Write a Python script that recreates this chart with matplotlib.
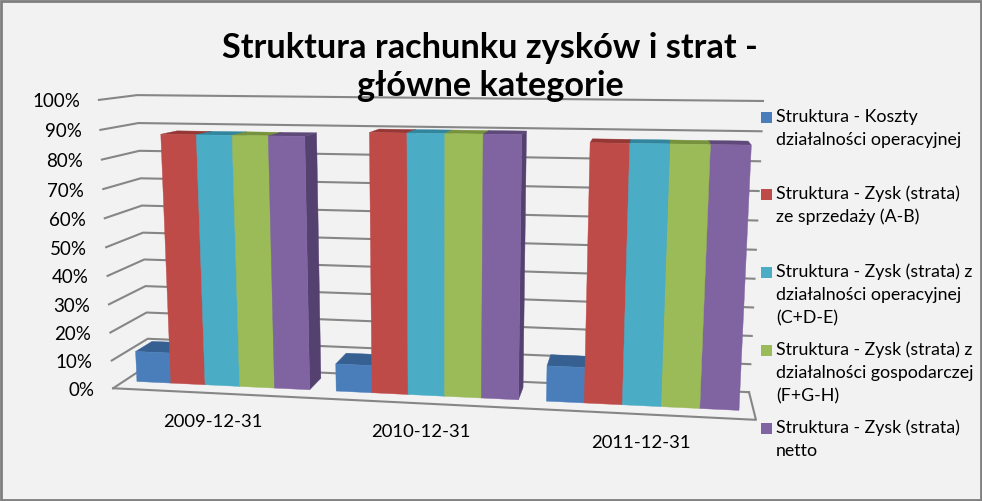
import numpy as np
import matplotlib
matplotlib.use("Agg")
import matplotlib.pyplot as plt
from matplotlib.patches import Polygon, Rectangle

plt.rcParams['font.family'] = ['Lato', 'DejaVu Sans']

categories = ["2009-12-31", "2010-12-31", "2011-12-31"]
koszty = [11.0, 9.7, 12.3]
zysk_sprzedaz = [88.0, 89.6, 87.3]
zysk_operacyjna = [88.0, 89.6, 87.3]
zysk_gospodarcza = [88.0, 89.6, 87.3]
zysk_netto = [88.0, 89.6, 87.3]
series = [koszty, zysk_sprzedaz, zysk_operacyjna, zysk_gospodarcza, zysk_netto]

ticks = list(range(0, 101, 10))
title = "Struktura rachunku zysków i strat -\ngłówne kategorie"
legend_labels = [
    ["Struktura - Koszty", "działalności operacyjnej"],
    ["Struktura - Zysk (strata)", "ze sprzedaży (A-B)"],
    ["Struktura - Zysk (strata) z", "działalności operacyjnej", "(C+D-E)"],
    ["Struktura - Zysk (strata) z", "działalności gospodarczej", "(F+G-H)"],
    ["Struktura - Zysk (strata)", "netto"],
]
legend_y = [117, 194, 272, 350, 428]

colors = ["#4A7EBB", "#BE4B48", "#4BACC6", "#9BBB59", "#8064A2"]
tops = ["#376092", "#953735", "#31859C", "#76923C", "#5F497A"]
sides = ["#376092", "#953735", "#31859C", "#76923C", "#554170"]
grid_color = "#868686"

# box corners (x, depth, value 0..1) -> where they land in the picture
anchors = [
    ((0, 0, 0), (113, 388)), ((1, 0, 0), (756, 420)),
    ((0, 1, 0), (149, 365)), ((1, 1, 0), (749, 392)),
    ((0, 1, 1), (137, 95)), ((1, 1, 1), (763, 101)),
    ((0, 0, 1), (99, 100)),
]

rows = []
for (X, Y, Z), (u, v) in anchors:
    u, v = u / 1000, v / 1000
    rows.append([X, Y, Z, 1, 0, 0, 0, 0, -u * X, -u * Y, -u * Z, -u])
    rows.append([0, 0, 0, 0, X, Y, Z, 1, -v * X, -v * Y, -v * Z, -v])
P = np.linalg.svd(np.array(rows))[2][-1].reshape(3, 4)
cam = np.linalg.svd(P)[2][-1]
cam = cam / cam[3]


def project(x, y, z):
    h = P @ np.array([x, y, z / 100, 1.0])
    return h[0] / h[2] * 1000, h[1] / h[2] * 1000


def poly(ax, pts, color, zorder):
    ax.add_patch(Polygon([project(*p) for p in pts], closed=True, facecolor=color,
                         edgecolor=color, lw=0.3, zorder=zorder))


fig = plt.figure(figsize=(9.82, 5.01), dpi=100, facecolor="#F2F2F2")
ax = fig.add_axes([0, 0, 1, 1])
ax.set_xlim(0, 982)
ax.set_ylim(501, 0)
ax.axis("off")

# walls and floor
for t in ticks:
    line = [project(0, 0, t), project(0, 1, t), project(1, 1, t)]
    ax.plot(*zip(*line), color=grid_color, lw=1.5, zorder=1)
    fx, fy = project(0, 0, t)
    ax.text(fx - 19, fy + 2, f"{t}%", ha="right", va="center", fontsize=13.5, color="black")
floor = [project(0, 0, 0), project(1, 0, 0), project(1, 1, 0)]
ax.plot(*zip(*floor), color=grid_color, lw=1.5, zorder=1)

# bars, farthest from the camera first
gap = 0.13
bar_w = (1 - gap) / 5
y0, y1 = 0.30, 0.77
bars = []
for i in range(len(categories)):
    for j, vals in enumerate(series):
        x0 = (i + gap / 2 + j * bar_w) / 3
        x1 = x0 + bar_w / 3
        bars.append((abs((x0 + x1) / 2 - cam[0]), x0, x1, vals[i], j))
bars.sort(key=lambda b: -b[0])

for n, (_, x0, x1, v, j) in enumerate(bars):
    z = 2 + n * 0.01
    if cam[0] > x1:
        poly(ax, [(x1, y0, 0), (x1, y1, 0), (x1, y1, v), (x1, y0, v)], sides[j], z)
    if cam[0] < x0:
        poly(ax, [(x0, y0, 0), (x0, y1, 0), (x0, y1, v), (x0, y0, v)], sides[j], z)
    if cam[2] * 100 > v:
        poly(ax, [(x0, y0, v), (x1, y0, v), (x1, y1, v), (x0, y1, v)], tops[j], z)
    poly(ax, [(x0, y0, 0), (x1, y0, 0), (x1, y0, v), (x0, y0, v)], colors[j], z + 0.001)

for i, cat in enumerate(categories):
    fx, fy = project((i + 0.5) / 3, 0, 0)
    ax.text(fx - 0.5, fy + 28.5, cat, ha="center", va="center", fontsize=13.3, color="black")

# legend
for lines, ly, c in zip(legend_labels, legend_y, colors):
    ax.add_patch(Rectangle((761, ly - 5.5), 11, 11, facecolor=c, edgecolor="none", zorder=5))
    for k, s in enumerate(lines):
        ax.text(776, ly + k * 23, s, ha="left", va="center", fontsize=12.75, color="black", zorder=5)

ax.text(490, 67, title, ha="center", va="center", fontsize=24.7, fontweight="bold",
        color="black", linespacing=1.25, zorder=6)

# chart border
ax.add_patch(Rectangle((1, 1), 980, 499, facecolor="none", edgecolor="#7F7F7F", lw=2, zorder=7))

fig.savefig("out.png", dpi=100, facecolor=fig.get_facecolor())
